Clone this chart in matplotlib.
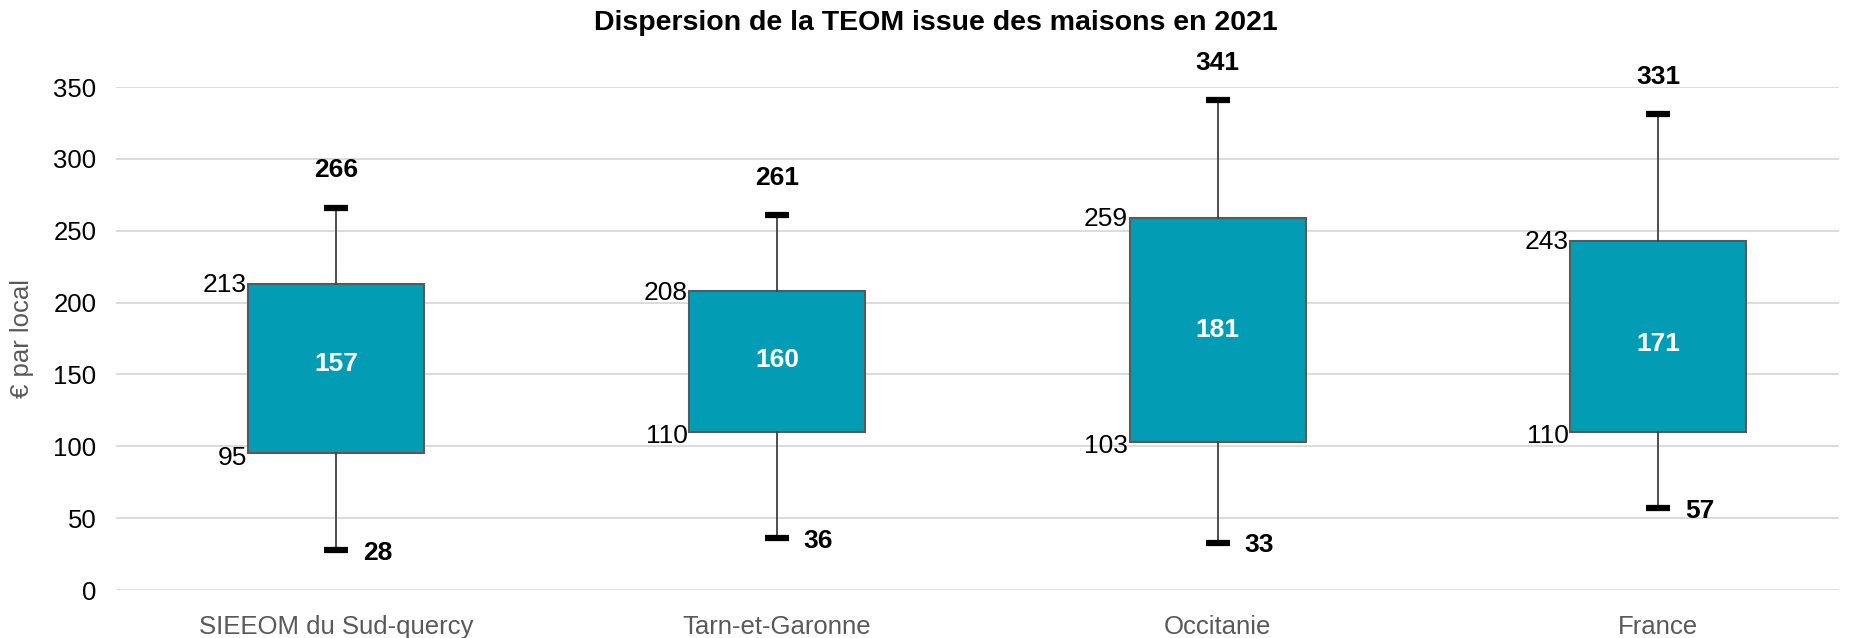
import matplotlib
matplotlib.use("Agg")
import matplotlib.pyplot as plt

plt.rcParams['font.family'] = ['Liberation Sans', 'DejaVu Sans']

# data
categories = ['SIEEOM du Sud-quercy', 'Tarn-et-Garonne', 'Occitanie', 'France']
mins = [28, 36, 33, 57]
q1s = [95, 110, 103, 110]
medians = [157, 160, 181, 171]
q3s = [213, 208, 259, 243]
maxs = [266, 261, 341, 331]

box_color = '#029DB4'
edge_color = '#595959'


def build_stats():
	stats = []
	for i in range(len(categories)):
		stats.append({
			'label': categories[i],
			'whislo': mins[i], 'q1': q1s[i], 'med': medians[i],
			'q3': q3s[i], 'whishi': maxs[i], 'fliers': [],
		})
	return stats


def main():
	fig = plt.figure(figsize=(18.72, 6.38), dpi=100)
	ax = fig.add_axes([116 / 1872, 1 - 590 / 638, (1839 - 116) / 1872, (590 - 87) / 638])

	pos = list(range(len(categories)))
	ax.bxp(build_stats(), positions=pos, widths=0.40, patch_artist=True,
		showfliers=False, capwidths=0.055,
		boxprops=dict(facecolor=box_color, edgecolor=edge_color, linewidth=1.5),
		whiskerprops=dict(color='#404040', linewidth=1.3),
		capprops=dict(color='black', linewidth=4.5, solid_capstyle='butt'),
		medianprops=dict(linewidth=0))

	for i, p in enumerate(pos):
		ax.text(p, maxs[i] + 26, str(maxs[i]), ha='center', va='center',
			fontsize=19, fontweight='bold')
		ax.text(p + 0.06, mins[i] - 2, str(mins[i]), ha='left', va='center',
			fontsize=19, fontweight='bold')
		ax.text(p, medians[i], str(medians[i]), ha='center', va='center',
			fontsize=19, fontweight='bold', color='white')
		ax.text(p - 0.203, q3s[i] - 1, str(q3s[i]), ha='right', va='center',
			fontsize=19)
		ax.text(p - 0.203, q1s[i] - 3, str(q1s[i]), ha='right', va='center',
			fontsize=19)

	ax.set_ylim(0, 350)
	ax.set_xlim(-0.5, 3.41)
	ax.set_yticks(range(0, 351, 50))
	ax.set_xticks(pos)
	ax.set_xticklabels(categories)
	ax.tick_params(axis='both', length=0, labelsize=18.5)
	ax.tick_params(axis='x', colors='#595959', pad=18)
	ax.tick_params(axis='y', pad=14)
	ax.yaxis.grid(True, color='#D9D9D9', linewidth=1.3)
	ax.set_axisbelow(True)
	for s in ax.spines.values():
		s.set_visible(False)

	ax.set_ylabel('€ par local', fontsize=18.5, color='#595959', labelpad=14)
	fig.text(0.5, 1 - 23 / 638, 'Dispersion de la TEOM issue des maisons en 2021',
		ha='center', va='center', fontsize=20.5, fontweight='bold')

	fig.savefig('out.png', dpi=100)


if __name__ == '__main__':
	main()
